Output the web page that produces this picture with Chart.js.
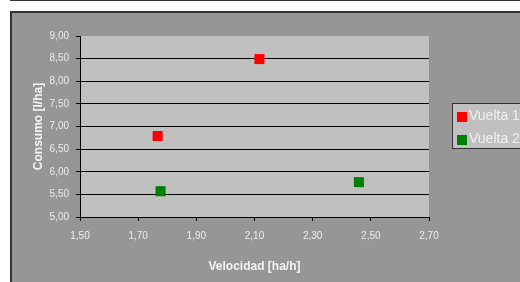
<!DOCTYPE html>
<html>
<head>
<meta charset="utf-8">
<script src="https://cdn.jsdelivr.net/npm/chart.js@4.4.1/dist/chart.umd.min.js"></script>
<style>
  html, body { margin: 0; padding: 0; background: #fff; }
  #wrap { width: 520px; height: 282px; position: relative; }
</style>
</head>
<body>
<div id="wrap"><canvas id="chart" width="520" height="282"></canvas></div>
<script>
// datos
const seriesNames = ["Vuelta 1", "Vuelta 2"];
const seriesColors = ["#ff0000", "#008000"];
const velocidad1 = [1.767, 2.117];
const consumo1 = [6.79, 8.49];
const velocidad2 = [1.777, 2.459];
const consumo2 = [5.57, 5.77];

const xTitle = "Velocidad [ha/h]";
const yTitle = "Consumo [l/ha]";

const fmt = (v) => Number(v).toFixed(2).replace(".", ",");
const toPoints = (xs, ys) => xs.map((x, i) => ({ x: x, y: ys[i] }));

// fondo gris de excel, area de trazado y leyenda
const excelLook = {
  id: "excelLook",
  beforeDraw(chart) {
    const { ctx, chartArea } = chart;
    ctx.save();
    ctx.fillStyle = "#ffffff";
    ctx.fillRect(0, 0, chart.width, chart.height);
    ctx.fillStyle = "#333333";
    ctx.fillRect(10, 0, chart.width - 10, 1);
    ctx.fillRect(10, 11, chart.width - 10, chart.height - 11);
    ctx.fillStyle = "#969696";
    ctx.fillRect(12, 13, chart.width - 12, chart.height - 13);
    ctx.fillStyle = "#c0c0c0";
    ctx.fillRect(chartArea.left, chartArea.top,
      chartArea.right - chartArea.left, chartArea.bottom - chartArea.top);
    ctx.restore();
  },
  afterDraw(chart) {
    const { ctx } = chart;
    ctx.save();
    // caja de leyenda
    ctx.fillStyle = "#333333";
    ctx.fillRect(452, 103, 80, 46);
    ctx.fillStyle = "#c0c0c0";
    ctx.fillRect(453, 104, 80, 44);
    ctx.font = "14px 'Liberation Sans', Arial, sans-serif";
    ctx.textBaseline = "alphabetic";
    chart.data.datasets.forEach((ds, i) => {
      const y = 112 + i * 23;
      ctx.fillStyle = ds.backgroundColor;
      ctx.fillRect(457, y, 10, 10);
      ctx.fillStyle = "#f0f0f0";
      ctx.fillText(ds.label, 469, y + 8);
    });
    ctx.restore();
  }
};

new Chart(document.getElementById("chart"), {
  type: "scatter",
  data: {
    datasets: [
      {
        label: seriesNames[0],
        data: toPoints(velocidad1, consumo1),
        backgroundColor: seriesColors[0],
        borderWidth: 0,
        pointStyle: "rect",
        pointRadius: 7.1,
        pointHoverRadius: 7.1
      },
      {
        label: seriesNames[1],
        data: toPoints(velocidad2, consumo2),
        backgroundColor: seriesColors[1],
        borderWidth: 0,
        pointStyle: "rect",
        pointRadius: 7.1,
        pointHoverRadius: 7.1
      }
    ]
  },
  options: {
    responsive: false,
    animation: false,
    layout: { padding: { left: 11, right: 91, top: 36, bottom: 0 } },
    plugins: {
      legend: { display: false },
      tooltip: { enabled: false }
    },
    scales: {
      x: {
        type: "linear",
        min: 1.5,
        max: 2.7,
        afterFit: (scale) => { scale.height = 65; },
        border: { display: true, color: "#000000", width: 1 },
        grid: {
          drawOnChartArea: false,
          drawTicks: true,
          tickLength: 4,
          color: "#000000"
        },
        ticks: {
          stepSize: 0.2,
          padding: 9,
          color: "#ececec",
          font: { family: "'Liberation Sans', Arial, sans-serif", size: 10 },
          callback: (v) => fmt(v)
        },
        title: {
          display: true,
          text: xTitle,
          color: "#f4f4f4",
          font: { family: "'Liberation Sans', Arial, sans-serif", size: 12, weight: "bold" },
          padding: { top: 0, bottom: 8 }
        }
      },
      y: {
        type: "linear",
        min: 5,
        max: 9,
        afterFit: (scale) => { scale.width = 69; },
        border: { display: true, color: "#000000", width: 1 },
        grid: {
          drawTicks: true,
          tickLength: 4,
          color: (c) => (c.tick && c.tick.value === 9 ? "rgba(0,0,0,0)" : "#000000"),
          tickColor: "#000000"
        },
        ticks: {
          stepSize: 0.5,
          padding: 7,
          color: "#ececec",
          font: { family: "'Liberation Sans', Arial, sans-serif", size: 10 },
          callback: (v) => fmt(v)
        },
        title: {
          display: true,
          text: yTitle,
          color: "#f4f4f4",
          font: { family: "'Liberation Sans', Arial, sans-serif", size: 12, weight: "bold" },
          padding: { top: 20, bottom: 0 }
        }
      }
    }
  },
  plugins: [excelLook]
});
</script>
</body>
</html>
